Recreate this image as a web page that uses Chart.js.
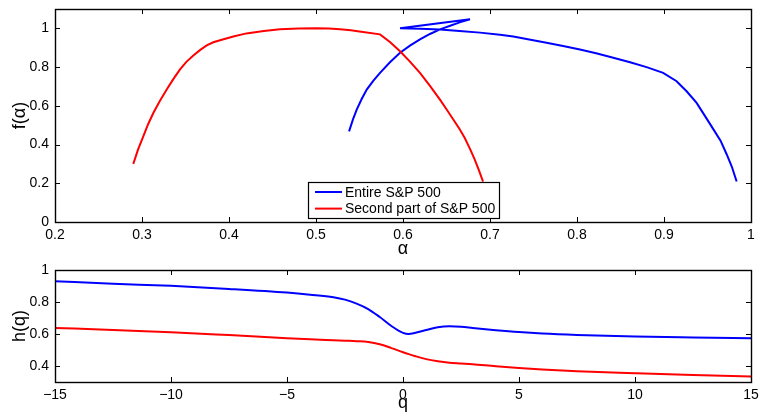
<!DOCTYPE html>
<html>
<head>
<meta charset="utf-8">
<script src="https://cdn.jsdelivr.net/npm/chart.js@4.4.0/dist/chart.umd.min.js"></script>
<style>
  body { margin: 0; background: #fff; }
  #wrap { position: relative; width: 759px; height: 417px; }
  canvas { position: absolute; left: 0; }
</style>
</head>
<body>
<div id="wrap">
  <canvas id="specChart" width="759" height="260" style="top:0"></canvas>
  <canvas id="hurstChart" width="759" height="157" style="top:260px"></canvas>
</div>
<script>
// series names
const seriesLabels = ['Entire S&P 500', 'Second part of S&P 500'];

// multifractal spectrum f(alpha) (path order)
const entireAlpha = [0.538, 0.5425, 0.5468, 0.5525, 0.5583, 0.566, 0.5736, 0.585, 0.5966, 0.608, 0.6195, 0.631, 0.6425, 0.655, 0.666, 0.677,
  0.5966, 0.620, 0.6425, 0.665, 0.6885, 0.7115, 0.7268, 0.745, 0.765, 0.784, 0.8034, 0.822, 0.8417, 0.861, 0.880, 0.899, 0.9145, 0.926, 0.9375, 0.947, 0.957, 0.965, 0.972, 0.978, 0.9835];
const entireF = [0.468, 0.53, 0.58, 0.635, 0.684, 0.73, 0.770, 0.825, 0.874, 0.911, 0.943, 0.971, 0.995, 1.015, 1.032, 1.047,
  1.0, 0.998, 0.994, 0.986, 0.978, 0.967, 0.958, 0.943, 0.926, 0.909, 0.891, 0.871, 0.848, 0.825, 0.800, 0.770, 0.727, 0.675, 0.615, 0.548, 0.477, 0.42, 0.35, 0.285, 0.209];

const secondAlpha = [0.290, 0.2955, 0.3015, 0.307, 0.313, 0.3205, 0.3284, 0.336, 0.3437, 0.351, 0.359, 0.367, 0.3744, 0.382, 0.3897, 0.405, 0.420, 0.440, 0.4586, 0.480, 0.500, 0.515, 0.5276, 0.540, 0.552, 0.5736,
  0.585, 0.5966, 0.608, 0.6195, 0.631, 0.6425, 0.650, 0.658, 0.665, 0.671, 0.677, 0.682, 0.687, 0.692];
const secondF = [0.30, 0.375, 0.442, 0.505, 0.563, 0.625, 0.684, 0.738, 0.788, 0.827, 0.860, 0.889, 0.912, 0.928, 0.939, 0.958, 0.974, 0.986, 0.995, 0.999, 1.0, 0.999, 0.995, 0.990, 0.983, 0.969,
  0.93, 0.882, 0.828, 0.770, 0.703, 0.632, 0.582, 0.528, 0.48, 0.434, 0.378, 0.327, 0.27, 0.209];

// generalized Hurst exponent h(q)
const qValues = [-15, -12.5, -10, -7.5, -5, -4, -3, -2.5, -2, -1.5, -1, -0.5, 0, 0.25, 0.5, 1, 1.5, 2, 2.5, 3, 4, 5, 6, 7.5, 10, 12.5, 15];
const entireH = [0.93, 0.914, 0.901, 0.882, 0.859, 0.846, 0.830, 0.815, 0.790, 0.756, 0.706, 0.650, 0.607, 0.600, 0.606, 0.625, 0.642, 0.648, 0.645, 0.638, 0.624, 0.612, 0.603, 0.594, 0.584, 0.578, 0.573];
const secondH = [0.638, 0.625, 0.611, 0.593, 0.574, 0.567, 0.561, 0.558, 0.555, 0.550, 0.536, 0.512, 0.486, 0.474, 0.463, 0.443, 0.430, 0.421, 0.416, 0.411, 0.398, 0.387, 0.378, 0.367, 0.355, 0.344, 0.335];

// tick labels
const alphaTicks = [0.2, 0.3, 0.4, 0.5, 0.6, 0.7, 0.8, 0.9, 1];
const fTicks = [0, 0.2, 0.4, 0.6, 0.8, 1];
const qTicks = [-15, -10, -5, 0, 5, 10, 15];
const hTicks = [0.4, 0.6, 0.8, 1];

const FONT = '"Liberation Sans", Arial, Helvetica, sans-serif';
Chart.defaults.font.family = FONT;
Chart.defaults.color = '#000';

const fmt = v => String(Math.round(v * 100) / 100).replace('-', '\u2212');
const pts = (xs, ys) => xs.map((x, i) => ({ x: x, y: ys[i] }));

// MATLAB-like box with inward ticks
const boxFrame = {
  id: 'boxFrame',
  afterDatasetsDraw(chart) {
    const { ctx, chartArea: a, scales: { x, y } } = chart;
    ctx.save();
    ctx.strokeStyle = '#000';
    ctx.lineWidth = 1;
    ctx.beginPath();
    x.ticks.forEach(t => {
      const px = Math.round(x.getPixelForValue(t.value)) + 0.5;
      ctx.moveTo(px, a.bottom); ctx.lineTo(px, a.bottom - 5);
      ctx.moveTo(px, a.top); ctx.lineTo(px, a.top + 5);
    });
    y.ticks.forEach(t => {
      const py = Math.round(y.getPixelForValue(t.value)) + 0.5;
      ctx.moveTo(a.left, py); ctx.lineTo(a.left + 5, py);
      ctx.moveTo(a.right, py); ctx.lineTo(a.right - 5, py);
    });
    ctx.stroke();
    ctx.lineWidth = 1.4;
    ctx.strokeRect(a.left + 0.5, a.top + 0.5, a.width, a.height);
    ctx.restore();
  }
};

// legend box inside the plot, bottom centre
const insideLegend = {
  id: 'insideLegend',
  afterDraw(chart) {
    const { ctx, chartArea: a } = chart;
    const items = chart.data.datasets;
    ctx.save();
    ctx.font = '14px ' + FONT;
    const tw = Math.max(...items.map(d => ctx.measureText(d.label).width));
    const w = Math.round(37 + tw + 4), h = 36;
    const bx = Math.round((a.left + a.right - w) / 2), by = a.bottom - 4 - h;
    ctx.fillStyle = '#fff';
    ctx.fillRect(bx, by, w, h);
    ctx.strokeStyle = '#000';
    ctx.lineWidth = 1.2;
    ctx.strokeRect(bx + 0.5, by + 0.5, w, h);
    items.forEach((d, i) => {
      const ry = by + 10 + i * 16.6;
      ctx.strokeStyle = d.borderColor;
      ctx.lineWidth = 2;
      ctx.beginPath();
      ctx.moveTo(bx + 7, ry); ctx.lineTo(bx + 34, ry);
      ctx.stroke();
      ctx.fillStyle = '#000';
      ctx.textBaseline = 'middle';
      ctx.fillText(d.label, bx + 37, ry + 1);
    });
    ctx.restore();
  }
};

function axis(tickList, min, max, title, opts) {
  return {
    type: 'linear',
    min: min,
    max: max,
    grid: { display: false, drawTicks: false },
    border: { display: false },
    afterBuildTicks: s => { s.ticks = tickList.map(v => ({ value: v })); },
    afterFit: s => {
      if (opts.width) s.width = opts.width;
      if (opts.height) s.height = opts.height;
      s.paddingLeft = 0; s.paddingRight = 0; s.paddingTop = 0; s.paddingBottom = 0;
    },
    ticks: { autoSkip: false, maxRotation: 0, padding: opts.tickPad, font: { size: 14 }, callback: v => fmt(v) },
    title: { display: true, text: title, font: { size: 18 }, padding: opts.titlePad }
  };
}

function lineSet(label, data, color, order, extra) {
  return Object.assign({
    label: label, data: data, showLine: true, borderColor: color, backgroundColor: color,
    borderWidth: 2, pointRadius: 0, tension: 0, order: order
  }, extra || {});
}

new Chart(document.getElementById('specChart'), {
  type: 'scatter',
  data: {
    datasets: [
      lineSet(seriesLabels[0], pts(entireAlpha, entireF), '#0000ff', 1),
      lineSet(seriesLabels[1], pts(secondAlpha, secondF), '#ff0000', 0)
    ]
  },
  options: {
    responsive: false,
    animation: false,
    devicePixelRatio: 1,
    layout: { padding: { top: 9, right: 8, left: 0, bottom: 0 } },
    plugins: { legend: { display: false }, tooltip: { enabled: false } },
    scales: {
      x: axis(alphaTicks, 0.2, 1, '\u03b1', { height: 38, tickPad: 5, titlePad: { top: 0, bottom: 0 } }),
      y: axis(fTicks, 0, 1.1, 'f(\u03b1)', { width: 55, tickPad: 6, titlePad: { top: 9, bottom: 0 } })
    }
  },
  plugins: [boxFrame, insideLegend]
});

new Chart(document.getElementById('hurstChart'), {
  type: 'scatter',
  data: {
    datasets: [
      lineSet(seriesLabels[0], pts(qValues, entireH), '#0000ff', 1, { cubicInterpolationMode: 'monotone' }),
      lineSet(seriesLabels[1], pts(qValues, secondH), '#ff0000', 0, { cubicInterpolationMode: 'monotone' })
    ]
  },
  options: {
    responsive: false,
    animation: false,
    devicePixelRatio: 1,
    layout: { padding: { top: 10, right: 8, left: 0, bottom: 0 } },
    plugins: { legend: { display: false }, tooltip: { enabled: false } },
    scales: {
      x: axis(qTicks, -15, 15, 'q', { height: 35, tickPad: 5, titlePad: { top: 0, bottom: 3 } }),
      y: axis(hTicks, 0.3, 1, 'h(q)', { width: 55, tickPad: 6, titlePad: { top: 9, bottom: 0 } })
    }
  },
  plugins: [boxFrame]
});
</script>
</body>
</html>
